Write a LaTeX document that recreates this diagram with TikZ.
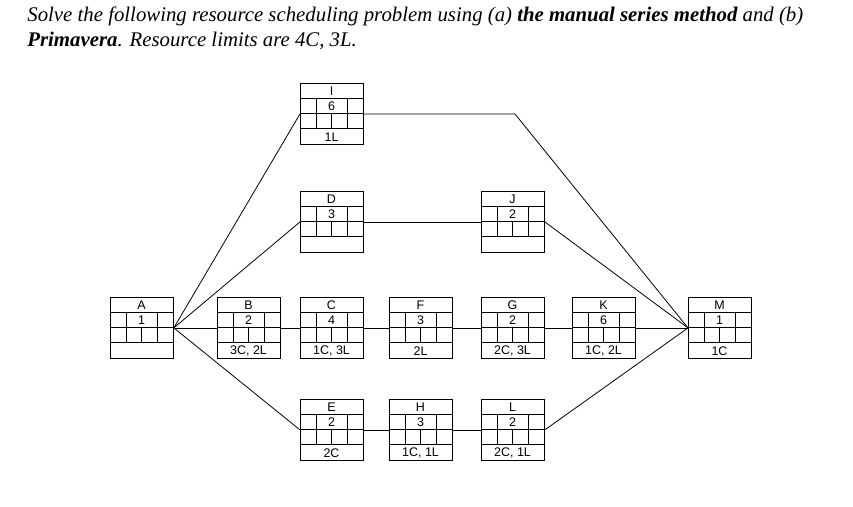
\documentclass[tikz,border=0pt]{standalone}
\usepackage{fontspec}
\usetikzlibrary{calc}
\setmainfont{Liberation Serif}
\newfontfamily\boxfont{Liberation Sans}
\begin{document}
\begin{tikzpicture}[x=1pt,y=-1pt,line width=0.8pt,
  actbox/.style={draw,minimum width=63pt,minimum height=61pt,inner sep=0pt,anchor=north west},
  lbl/.style={font=\boxfont\fontsize{12.5}{14}\selectfont,inner sep=0pt},
  link/.style={line width=0.8pt}]
\useasboundingbox (0,0) rectangle (853,506);
\node[anchor=base west,inner sep=0pt,font=\fontsize{20.8}{24}\selectfont\itshape] (t1) at (27,21)
 {Solve the following resource scheduling problem using (a) \textbf{the manual series method} and (b)};
\node[anchor=base west,inner sep=0pt,font=\fontsize{20.8}{24}\selectfont\itshape] (t2) at (27,46)
 {\textbf{Primavera}. Resource limits are 4C, 3L.};
\newcommand{\actnode}[6]{%
  \node[actbox] (#1) at (#2,#3) {};
  \draw ($(#1.north west)+(0,15.25)$) -- ++(63,0);
  \draw ($(#1.north west)+(0,30.5)$) -- ++(63,0);
  \draw ($(#1.north west)+(0,45.75)$) -- ++(63,0);
  \draw ($(#1.north west)+(16,15.25)$) -- ++(0,30.5);
  \draw ($(#1.north west)+(47,15.25)$) -- ++(0,30.5);
  \draw ($(#1.north west)+(31.5,30.5)$) -- ++(0,15.25);
  \node[lbl] at ($(#1.north west)+(31.5,8)$) {#4};
  \node[lbl] at ($(#1.north west)+(31.5,23.2)$) {#5};
  \node[lbl] at ($(#1.north west)+(31.5,53.8)$) {#6};
}
\actnode{A}{110}{297}{A}{1}{}
\actnode{B}{217}{297}{B}{2}{3C, 2L}
\actnode{C}{300}{297}{C}{4}{1C, 3L}
\actnode{F}{389}{297}{F}{3}{2L}
\actnode{G}{481}{297}{G}{2}{2C, 3L}
\actnode{K}{572}{297}{K}{6}{1C, 2L}
\actnode{M}{688}{297}{M}{1}{1C}
\actnode{I}{300}{83}{I}{6}{1L}
\actnode{D}{300}{191}{D}{3}{}
\actnode{J}{481}{191}{J}{2}{}
\actnode{E}{300}{399}{E}{2}{2C}
\actnode{H}{389}{399}{H}{3}{1C, 1L}
\actnode{L}{481}{399}{L}{2}{2C, 1L}
\coordinate (bend) at (515,114);
\draw[link] (A.east) -- (I.west);
\draw[link] (A.east) -- (D.west);
\draw[link] (A.east) -- (B.west);
\draw[link] (A.east) -- (E.west);
\draw[link] (B.east) -- (C.west);
\draw[link] (C.east) -- (F.west);
\draw[link] (F.east) -- (G.west);
\draw[link] (G.east) -- (K.west);
\draw[link] (K.east) -- (M.west);
\draw[link] (I.east) -- (bend) -- (M.west);
\draw[link] (D.east) -- (J.west);
\draw[link] (J.east) -- (M.west);
\draw[link] (E.east) -- (H.west);
\draw[link] (H.east) -- (L.west);
\draw[link] (L.east) -- (M.west);
\end{tikzpicture}
\end{document}
